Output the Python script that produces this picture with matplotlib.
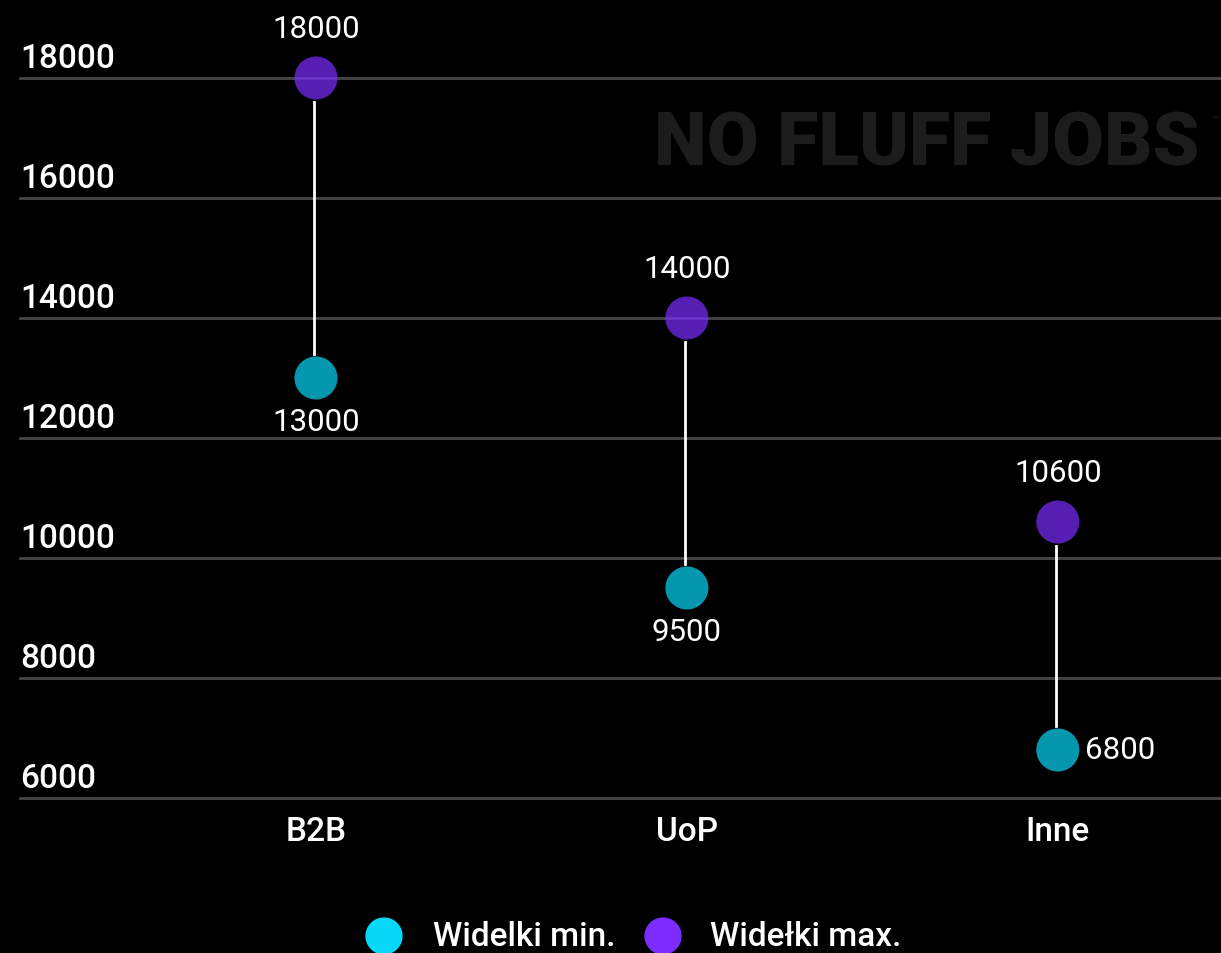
import matplotlib
matplotlib.use("Agg")
import matplotlib.pyplot as plt
import matplotlib.transforms as mtransforms
import numpy as np

plt.rcParams['font.family'] = ['Roboto', 'DejaVu Sans']

categories = ['B2B', 'UoP', 'Inne']
min_vals = [13000, 9500, 6800]
max_vals = [18000, 14000, 10600]
y_ticks = [6000, 8000, 10000, 12000, 14000, 16000, 18000]
legend_labels = ['Widelki min.', 'Widełki max.']

cyan = '#08d8f8'
purple = '#7b2cff'
bg = 'black'

fig = plt.figure(figsize=(12.21, 9.54), dpi=100, facecolor=bg)
# axes spans x 20..1221 px, y 0..799 px (from top)
ax = fig.add_axes([20 / 1221, (954 - 799) / 954, 1201 / 1221, 799 / 954])
ax.set_facecolor(bg)
ax.set_xlim(-0.798, 2.44)
ax.set_ylim(6000, 19316)
for s in ax.spines.values():
    s.set_visible(False)
ax.set_xticks([])
ax.set_yticks([])

# watermark
fig.text(1200 / 1221, 1 - 145 / 954, 'NO FLUFF JOBS', color='#1c1c1c', fontsize=54,
         fontweight='black', ha='right', va='center')
fig.text(1219 / 1221, 1 - 121 / 954, '™', color='#1c1c1c', fontsize=9, ha='right', va='center')

# gridlines and y labels
trans = mtransforms.blended_transform_factory(ax.transAxes, ax.transData)
for t in y_ticks:
    ax.axhline(t, color='#464646', lw=2, zorder=1, clip_on=False)
    ax.text(0.0, t + 340, str(t), transform=trans, color='white',
            fontsize=24, fontweight='medium', ha='left', va='center')

x = np.arange(len(categories))
gap = 400
for xi, lo, hi in zip(x, min_vals, max_vals):
    ax.plot([xi - 0.005, xi - 0.005], [lo + gap, hi - gap], color='white', lw=2, zorder=2)

ax.scatter(x, min_vals, s=960, color=cyan, alpha=0.7, edgecolors='none', zorder=3)
ax.scatter(x, max_vals, s=960, color=purple, alpha=0.7, edgecolors='none', zorder=3)

for xi, hi in zip(x, max_vals):
    ax.text(xi, hi + 817, str(hi), color='white', fontsize=22.5, fontweight='normal',
            ha='center', va='center')
for i, (xi, lo) in enumerate(zip(x, min_vals)):
    if i == len(x) - 1:
        ax.text(xi + 0.072, lo, str(lo), color='white', fontsize=22.5, fontweight='normal',
                ha='left', va='center')
    else:
        ax.text(xi, lo - 733, str(lo), color='white', fontsize=22.5, fontweight='normal',
                ha='center', va='center')

# category labels
for xi, c in zip(x, categories):
    ax.text(xi, 5450, c, color='white', fontsize=24, fontweight='medium',
            ha='center', va='center', clip_on=False)

# legend
ax_leg = fig.add_axes([0, 0, 1, 1], facecolor='none')
ax_leg.set_xlim(0, 1221)
ax_leg.set_ylim(954, 0)
ax_leg.axis('off')
ax_leg.scatter([384, 663], [937, 937], s=720, color=[cyan, purple], edgecolors='none')
ax_leg.text(433, 937, legend_labels[0], color='white', fontsize=24, fontweight='medium',
            ha='left', va='center')
ax_leg.text(710, 937, legend_labels[1], color='white', fontsize=24, fontweight='medium',
            ha='left', va='center')

fig.savefig('out.png', dpi=100, facecolor=bg)
